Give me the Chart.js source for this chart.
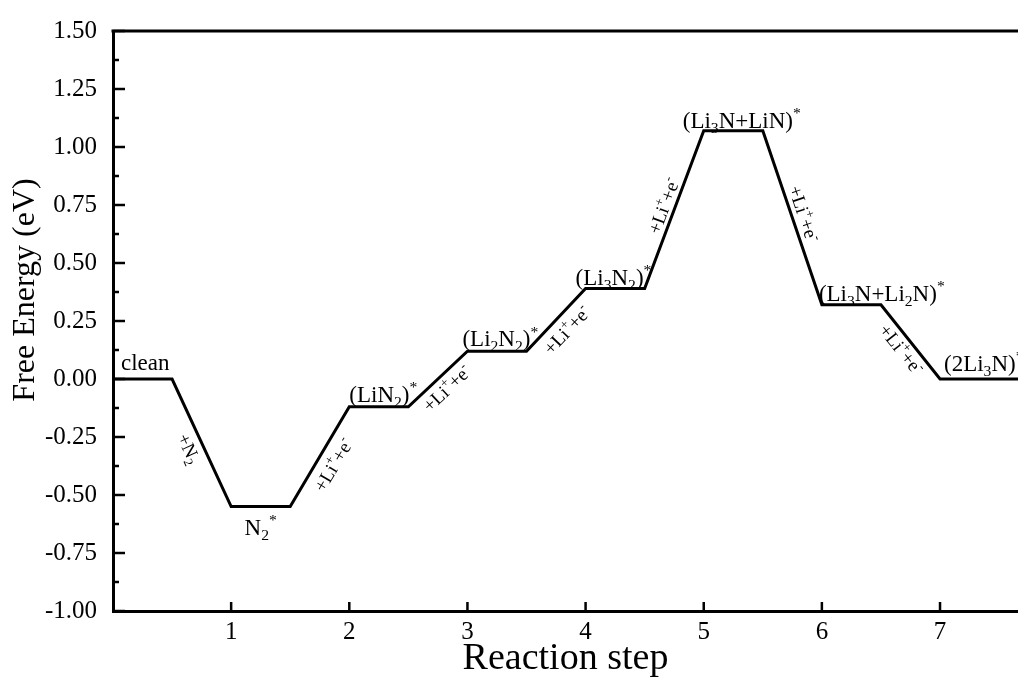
<!DOCTYPE html>
<html>
<head>
<meta charset="utf-8">
<script src="https://cdn.jsdelivr.net/npm/chart.js@4.4.0/dist/chart.umd.min.js"></script>
<style>
  html, body { margin: 0; padding: 0; background: #fff; }
</style>
</head>
<body>
<canvas id="energyChart" width="1018" height="677"></canvas>
<script>
// free energy diagram (eV)
const steps = [0, 1, 2, 3, 4, 5, 6, 7];
const energies = [0.00, -0.55, -0.12, 0.12, 0.39, 1.07, 0.32, 0.00];
const species = ['clean', 'N_2^*', '(LiN_2)^*', '(Li_2N_2)^*', '(Li_3N_2)^*', '(Li_3N+LiN)^*', '(Li_3N+Li_2N)^*', '(2Li_3N)^*'];
const transitions = ['+N_2', '+Li^++e^-', '+Li^++e^-', '+Li^++e^-', '+Li^++e^-', '+Li^++e^-', '+Li^++e^-'];
const xTicks = [1, 2, 3, 4, 5, 6, 7];
const yTicks = [-1.00, -0.75, -0.50, -0.25, 0.00, 0.25, 0.50, 0.75, 1.00, 1.25, 1.50];
const plateauWidth = 0.5;
const xMin = 0, xMax = 7.66;

const FONT = '"Liberation Serif", "Times New Roman", serif';

// build the level / connector polyline
const profile = [];
steps.forEach((s, i) => {
    const end = i === steps.length - 1 ? xMax + 1 : s + plateauWidth;
    profile.push({ x: s, y: energies[i] });
    profile.push({ x: end, y: energies[i] });
});

/* ===== rich text helpers (sub / superscripts) ===== */
function parseRich(str) {
    const runs = [];
    let buf = '';
    for (let i = 0; i < str.length; i++) {
        const c = str[i];
        if (c === '_' || c === '^') {
            if (buf) { runs.push({ t: buf, k: 'n' }); buf = ''; }
            runs.push({ t: str[i + 1], k: c === '_' ? 'sub' : 'sup' });
            i++;
        } else {
            buf += c;
        }
    }
    if (buf) runs.push({ t: buf, k: 'n' });
    return runs;
}

function runFont(r, size) {
    return (r.k === 'n' ? size : size * 0.68) + 'px ' + FONT;
}

function richWidth(ctx, runs, size) {
    let w = 0;
    runs.forEach(r => { ctx.font = runFont(r, size); w += ctx.measureText(r.t).width; });
    return w;
}

function drawRich(ctx, str, x, y, size) {
    const runs = parseRich(str);
    let cx = x;
    ctx.textAlign = 'left';
    ctx.textBaseline = 'alphabetic';
    runs.forEach(r => {
        ctx.font = runFont(r, size);
        const dy = r.k === 'sub' ? size * 0.22 : r.k === 'sup' ? -size * 0.42 : 0;
        ctx.fillText(r.t, cx, y + dy);
        cx += ctx.measureText(r.t).width;
    });
    return runs;
}

// label placement (pixels relative to the level line)
const speciesPlace = [
    { dx: 8, dy: -9 }, { center: true, dy: 28 }, { dx: 0, dy: -5 }, { dx: -5, dy: -5 },
    { dx: -10, dy: -4 }, { dx: -21, dy: -3 }, { dx: -3, dy: -4 }, { dx: 4, dy: -8 }
];
const transOffset = [14, 16, 13, 15, -11, -12, 12];

const diagramPlugin = {
    id: 'diagram',
    afterDraw(chart) {
        const ctx = chart.ctx;
        const xs = chart.scales.x, ys = chart.scales.y;
        const area = chart.chartArea;
        ctx.save();
        ctx.fillStyle = '#000';
        ctx.strokeStyle = '#000';

        // top frame
        ctx.lineWidth = 3;
        ctx.beginPath();
        ctx.moveTo(area.left - 1.5, area.top);
        ctx.lineTo(area.right + 2, area.top);
        ctx.stroke();

        // inward ticks, y major + minor
        ctx.lineWidth = 2.5;
        ys.ticks.forEach((t, i) => {
            const py = ys.getPixelForValue(t.value);
            ctx.beginPath();
            ctx.moveTo(area.left, py);
            ctx.lineTo(area.left + 12, py);
            ctx.stroke();
            if (i < ys.ticks.length - 1) {
                const mid = ys.getPixelForValue((t.value + ys.ticks[i + 1].value) / 2);
                ctx.beginPath();
                ctx.moveTo(area.left, mid);
                ctx.lineTo(area.left + 6, mid);
                ctx.stroke();
            }
        });
        // inward ticks, x
        xs.ticks.forEach(t => {
            const px = xs.getPixelForValue(t.value);
            ctx.beginPath();
            ctx.moveTo(px, area.bottom);
            ctx.lineTo(px, area.bottom - 9);
            ctx.stroke();
        });

        // species labels
        species.forEach((name, i) => {
            const p = speciesPlace[i];
            const x0 = xs.getPixelForValue(steps[i]);
            const x1 = xs.getPixelForValue(steps[i] + plateauWidth);
            const py = ys.getPixelForValue(energies[i]);
            const size = 23;
            let lx = x0 + (p.dx || 0);
            if (p.center) lx = (x0 + x1) / 2 - richWidth(ctx, parseRich(name), size) / 2;
            drawRich(ctx, name, lx, py + p.dy, size);
        });

        // transition labels along the connectors
        transitions.forEach((txt, i) => {
            const ax = xs.getPixelForValue(steps[i] + plateauWidth);
            const ay = ys.getPixelForValue(energies[i]);
            const bx = xs.getPixelForValue(steps[i + 1]);
            const by = ys.getPixelForValue(energies[i + 1]);
            const ang = Math.atan2(by - ay, bx - ax);
            const size = 19;
            const w = richWidth(ctx, parseRich(txt), size);
            ctx.save();
            ctx.translate((ax + bx) / 2, (ay + by) / 2);
            ctx.rotate(ang);
            drawRich(ctx, txt, -w / 2, transOffset[i] + size * 0.33, size);
            ctx.restore();
        });

        // y axis title
        ctx.save();
        ctx.translate(26, 290);
        ctx.rotate(-Math.PI / 2);
        ctx.font = '32px ' + FONT;
        ctx.textAlign = 'center';
        ctx.textBaseline = 'middle';
        ctx.fillText('Free Energy (eV)', 0, 0);
        ctx.restore();

        ctx.restore();
    }
};

new Chart(document.getElementById('energyChart'), {
    type: 'line',
    data: {
        datasets: [{
            data: profile,
            borderColor: '#000',
            borderWidth: 3,
            pointRadius: 0,
            tension: 0,
            borderJoinStyle: 'miter',
            fill: false
        }]
    },
    options: {
        responsive: false,
        animation: false,
        devicePixelRatio: 1,
        layout: { padding: { top: 25, right: 0, left: 0, bottom: 0 } },
        plugins: {
            legend: { display: false },
            tooltip: { enabled: false }
        },
        scales: {
            x: {
                type: 'linear',
                min: xMin,
                max: xMax,
                afterFit(scale) { scale.height = 66; },
                afterBuildTicks(scale) { scale.ticks = xTicks.map(v => ({ value: v })); },
                grid: { display: false, drawTicks: false },
                border: { display: true, width: 3, color: '#000' },
                ticks: {
                    color: '#000',
                    padding: 6,
                    maxRotation: 0,
                    autoSkip: false,
                    font: { family: FONT, size: 25 },
                    callback: v => String(v)
                },
                title: {
                    display: true,
                    text: 'Reaction step',
                    color: '#000',
                    padding: { top: 0, bottom: -5 },
                    font: { family: FONT, size: 38 }
                }
            },
            y: {
                min: -1,
                max: 1.5,
                afterFit(scale) { scale.width = 113; },
                afterBuildTicks(scale) { scale.ticks = yTicks.map(v => ({ value: v })); },
                grid: { display: false, drawTicks: false },
                border: { display: true, width: 3, color: '#000' },
                ticks: {
                    color: '#000',
                    padding: 16,
                    autoSkip: false,
                    font: { family: FONT, size: 25 },
                    callback: v => v.toFixed(2)
                }
            }
        }
    },
    plugins: [diagramPlugin]
});
</script>
</body>
</html>
